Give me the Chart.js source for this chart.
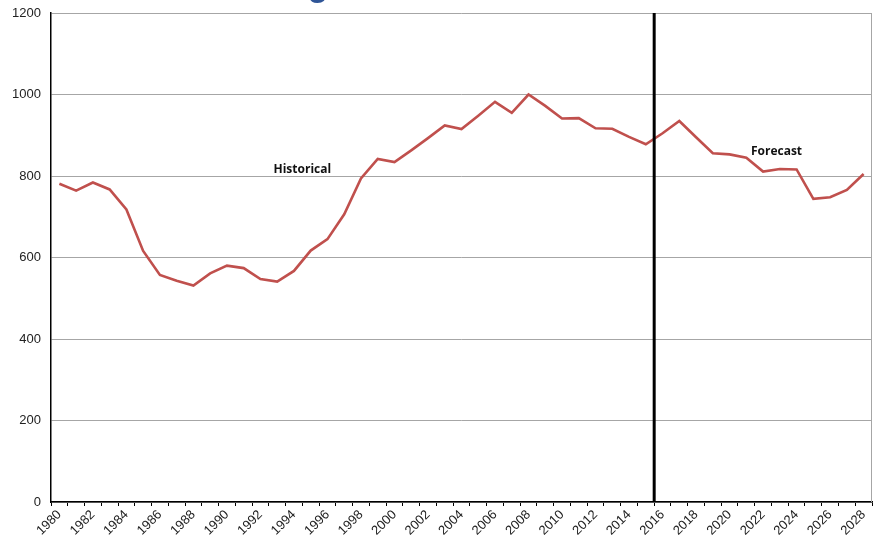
<!DOCTYPE html>
<html>
<head>
<meta charset="utf-8">
<script src="https://cdn.jsdelivr.net/npm/chart.js@4"></script>
<style>
  html, body { margin: 0; padding: 0; background: #fff; }
  #wrap { width: 873px; height: 539px; position: relative; }
</style>
</head>
<body>
<div id="wrap"><canvas id="chart"></canvas></div>
<script>
const years = ['1980','1981','1982','1983','1984','1985','1986','1987','1988','1989',
  '1990','1991','1992','1993','1994','1995','1996','1997','1998','1999',
  '2000','2001','2002','2003','2004','2005','2006','2007','2008','2009',
  '2010','2011','2012','2013','2014','2015','2016','2017','2018','2019',
  '2020','2021','2022','2023','2024','2025','2026','2027','2028'];
const values = [781,764,784,767,718,616,557,543,531,561,
  580,574,547,541,567,617,645,706,794,842,
  834,863,893,924,915,948,982,955,1000,972,
  941,942,917,916,896,878,905,935,895,856,
  853,845,811,817,816,744,748,766,805];
const yTicks = [0, 200, 400, 600, 800, 1000, 1200];
const splitYear = '2016'; // forecast starts here
const notes = [
  { text: 'Historical', at: 14.5, value: 815 },
  { text: 'Forecast', at: 42.8, value: 860 }
];

// extras: divider line, right border, text labels, clipped title glyph
const extras = {
  id: 'extras',
  afterDatasetsDraw(chart) {
    const { ctx, chartArea, scales } = chart;
    const x = scales.x, y = scales.y;
    ctx.save();
    // right border
    ctx.strokeStyle = '#a6a6a6';
    ctx.lineWidth = 1;
    ctx.beginPath();
    ctx.moveTo(chartArea.right - 0.5, chartArea.top);
    ctx.lineTo(chartArea.right - 0.5, chartArea.bottom);
    ctx.stroke();
    // divider between historical and forecast
    const i = years.indexOf(splitYear);
    const dx = (x.getPixelForValue(i - 1) + x.getPixelForValue(i)) / 2;
    ctx.strokeStyle = '#000';
    ctx.lineWidth = 3;
    ctx.beginPath();
    ctx.moveTo(dx, chartArea.top);
    ctx.lineTo(dx, chartArea.bottom);
    ctx.stroke();
    // notes
    ctx.fillStyle = '#111';
    ctx.font = 'bold 12px "Open Sans", "Noto Sans", sans-serif';
    ctx.textAlign = 'center';
    ctx.textBaseline = 'middle';
    notes.forEach(n => {
      ctx.fillText(n.text, x.getPixelForValue(n.at), y.getPixelForValue(n.value));
    });
    // title cut off above the picture, only the descender shows
    ctx.fillStyle = '#2f5597';
    ctx.font = 'bold 34px "Liberation Sans", Arial, sans-serif';
    ctx.textBaseline = 'alphabetic';
    ctx.fillText('g', 318, -4);
    ctx.restore();
  }
};

const ctx = document.getElementById('chart').getContext('2d');
const chart = new Chart(ctx, {
  type: 'line',
  data: {
    labels: years,
    datasets: [{
      data: values,
      borderColor: '#c0504d',
      borderWidth: 2.6,
      pointRadius: 0,
      tension: 0,
      fill: false
    }]
  },
  options: {
    responsive: true,
    maintainAspectRatio: false,
    animation: false,
    layout: { padding: { top: 13, right: 1, left: 0, bottom: 0 } },
    plugins: { legend: { display: false }, tooltip: { enabled: false } },
    scales: {
      x: {
        offset: true,
        grid: {
          offset: true,
          drawOnChartArea: false,
          drawTicks: true,
          tickLength: 4,
          tickColor: '#000',
          color: '#000'
        },
        border: { color: '#000', width: 1.5 },
        ticks: {
          autoSkip: false,
          minRotation: 45,
          maxRotation: 45,
          padding: 1,
          color: '#222',
          font: { family: '"Liberation Sans", Arial, sans-serif', size: 13 },
          callback: function (v, i) { return i % 2 === 0 ? years[i] : ''; }
        },
        afterFit(scale) { scale.height = 37; scale.paddingRight = 0; scale.paddingLeft = 0; }
      },
      y: {
        min: 0,
        max: 1200,
        afterBuildTicks(scale) { scale.ticks = yTicks.map(v => ({ value: v })); },
        grid: { color: '#a6a6a6', lineWidth: 1, drawTicks: false },
        border: { color: '#000', width: 1.5 },
        ticks: {
          padding: 10,
          color: '#222',
          font: { family: '"Liberation Sans", Arial, sans-serif', size: 13 },
          callback: v => String(v)
        },
        afterFit(scale) { scale.width = 51; scale.paddingTop = 0; scale.paddingBottom = 0; }
      }
    }
  },
  plugins: [extras]
});
</script>
</body>
</html>
